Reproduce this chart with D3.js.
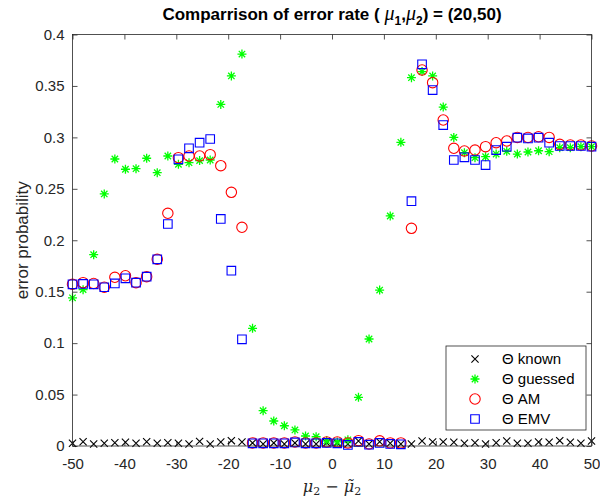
<!DOCTYPE html>
<html>
<head>
<meta charset="utf-8">
<script src="https://cdn.jsdelivr.net/npm/d3@7"></script>
<style>
  html, body { margin: 0; padding: 0; background: #fff; }
  svg { display: block; }
</style>
</head>
<body>
<svg id="chart" width="600" height="498"></svg>
<script>
const xValues = [-50, -47.96, -45.92, -43.88, -41.84, -39.80, -37.76, -35.71, -33.67, -31.63,
  -29.59, -27.55, -25.51, -23.47, -21.43, -19.39, -17.35, -15.31, -13.27, -11.22,
  -9.18, -7.14, -5.10, -3.06, -1.02, 1.02, 3.06, 5.10, 7.14, 9.18,
  11.22, 13.27, 15.31, 17.35, 19.39, 21.43, 23.47, 25.51, 27.55, 29.59,
  31.63, 33.67, 35.71, 37.76, 39.80, 41.84, 43.88, 45.92, 47.96, 50];

const knownVals = [0.0026, 0.0042, 0.0019, 0.0026, 0.0032, 0.0036, 0.0026, 0.0042, 0.0026, 0.0032,
  0.0026, 0.0019, 0.0045, 0.0019, 0.0039, 0.0052, 0.0039, 0.003, 0.002, 0.003,
  0.002, 0.003, 0.002, 0.002, 0.0032, 0.003, 0.0019, 0.0048, 0.0019, 0.0042,
  0.0026, 0.0019, 0.0019, 0.0048, 0.004, 0.004, 0.0036, 0.0026, 0.0032, 0.0019,
  0.0032, 0.0048, 0.0026, 0.0026, 0.0039, 0.0036, 0.0052, 0.0036, 0.0026, 0.0048];

const guessedVals = [0.144, 0.152, 0.186, 0.245, 0.279, 0.269, 0.2696, 0.2797, 0.2657, 0.2819,
  0.2738, 0.2754, 0.2774, 0.278, 0.332, 0.3597, 0.381, 0.1144, 0.0343, 0.0243,
  0.0197, 0.0156, 0.0097, 0.009, 0.005, 0.004, 0.006, 0.0473, 0.104, 0.1516,
  0.2236, 0.2952, 0.358, 0.364, 0.3597, 0.3295, 0.300, 0.2851, 0.2803, 0.2812,
  0.2838, 0.2864, 0.2838, 0.2858, 0.287, 0.2861, 0.29, 0.29, 0.291, 0.291];

const amVals = [0.1572, 0.1588, 0.158, 0.1543, 0.164, 0.1655, 0.1588, 0.1646, 0.1815, 0.2262,
  0.2803, 0.2819, 0.2819, 0.2832, 0.2725, 0.2466, 0.2126, 0.003, 0.003, 0.003,
  0.003, 0.004, 0.003, 0.003, 0.004, 0.004, 0.003, 0.0052, 0.002, 0.005,
  0.003, 0.003, 0.2116, 0.3655, 0.3532, 0.3169, 0.2894, 0.2868, 0.2877, 0.291,
  0.2948, 0.2965, 0.300, 0.300, 0.3006, 0.300, 0.2932, 0.2926, 0.2926, 0.2916];

const emvVals = [0.1572, 0.1575, 0.1572, 0.1543, 0.158, 0.163, 0.1588, 0.1646, 0.1815, 0.2158,
  0.2787, 0.2894, 0.2948, 0.2984, 0.2207, 0.1704, 0.1037, 0.0026, 0.0026, 0.0026,
  0.0026, 0.0035, 0.0026, 0.0026, 0.003, 0.0026, 0.001, 0.004, 0.0013, 0.003,
  0.002, 0.0016, 0.238, 0.371, 0.346, 0.312, 0.278, 0.2806, 0.278, 0.2731,
  0.2877, 0.291, 0.2997, 0.299, 0.2997, 0.2948, 0.2916, 0.2916, 0.2916, 0.291];

const xTickValues = [-50, -40, -30, -20, -10, 0, 10, 20, 30, 40, 50];
const xTickLabels = ["-50", "-40", "-30", "-20", "-10", "0", "10", "20", "30", "40", "50"];
const yTickValues = [0, 0.05, 0.1, 0.15, 0.2, 0.25, 0.3, 0.35, 0.4];
const yTickLabels = ["0", "0.05", "0.1", "0.15", "0.2", "0.25", "0.3", "0.35", "0.4"];

const seriesNames = ["known", "guessed", "AM", "EMV"];
const seriesColors = ["#000000", "#00ff00", "#ff0000", "#0000ff"];
const seriesMarkers = ["x", "star", "circle", "square"];
const seriesData = [knownVals, guessedVals, amVals, emvVals];

const svg = d3.select("#chart");
const L = 72.5, R = 591.5, T = 34.5, B = 446;
const x = d3.scaleLinear().domain([-50, 50]).range([L, R]);
const y = d3.scaleLinear().domain([0, 0.4]).range([B, T]);
const FONT = "'Liberation Sans', Arial, Helvetica, sans-serif";
const TXT = "#262626";

function markerPath(type) {
  if (type === "x") return "M-3.6,-3.6L3.6,3.6M-3.6,3.6L3.6,-3.6";
  if (type === "star") return "M-4.5,0L4.5,0M0,-4.5L0,4.5M-3.2,-3.2L3.2,3.2M-3.2,3.2L3.2,-3.2";
  if (type === "square") return "M-4.3,-4.3H4.3V4.3H-4.3Z";
  return null;
}
function drawMarker(g, type, color) {
  if (type === "circle") {
    g.append("circle").attr("r", 5.2).attr("fill", "none").attr("stroke", color).attr("stroke-width", 1.1);
  } else {
    g.append("path").attr("d", markerPath(type)).attr("fill", "none").attr("stroke", color)
      .attr("stroke-width", type === "star" ? 1.3 : 1.1);
  }
}

// axes
const xAxis = d3.axisBottom(x).tickValues(xTickValues)
  .tickFormat((d, i) => xTickLabels[i]).tickSize(-5).tickPadding(12);
const xg = svg.append("g").attr("transform", `translate(0,${B})`).call(xAxis);
const xAxisTop = d3.axisTop(x).tickValues(xTickValues).tickFormat("").tickSize(-5);
const xgt = svg.append("g").attr("transform", `translate(0,${T})`).call(xAxisTop);
const yAxis = d3.axisLeft(y).tickValues(yTickValues)
  .tickFormat((d, i) => yTickLabels[i]).tickSize(-5).tickPadding(8);
const yg = svg.append("g").attr("transform", `translate(${L},0)`).call(yAxis);
const yAxisR = d3.axisRight(y).tickValues(yTickValues).tickFormat("").tickSize(-5);
const ygr = svg.append("g").attr("transform", `translate(${R},0)`).call(yAxisR);

[xg, xgt, yg, ygr].forEach(g => {
  g.select(".domain").remove();
  g.selectAll(".tick line").attr("stroke", TXT).attr("stroke-width", 0.8);
  g.selectAll("text").attr("fill", TXT).style("font-family", FONT).style("font-size", "15px");
});

// data
seriesData.forEach((vals, s) => {
  const g = svg.append("g");
  vals.forEach((v, i) => {
    const m = g.append("g").attr("transform", `translate(${x(xValues[i])},${y(v)})`);
    drawMarker(m, seriesMarkers[s], seriesColors[s]);
  });
});

// box
svg.append("rect").attr("x", L).attr("y", T).attr("width", R - L).attr("height", B - T)
  .attr("fill", "none").attr("stroke", TXT).attr("stroke-width", 0.8);

// title
const title = svg.append("text").attr("x", (L + R) / 2).attr("y", 20)
  .attr("text-anchor", "middle").style("font-family", FONT).style("font-size", "17px")
  .style("font-weight", "bold").attr("fill", "#000");
title.append("tspan").text("Comparrison of error rate ( ");
title.append("tspan").text("μ").style("font-style", "italic").style("font-weight", "normal").style("font-family", "'Liberation Serif', serif").style("font-size", "20px");
title.append("tspan").text("1").attr("dy", 5).style("font-size", "12px");
title.append("tspan").text(",").attr("dy", -5);
title.append("tspan").text("μ").style("font-style", "italic").style("font-weight", "normal").style("font-family", "'Liberation Serif', serif").style("font-size", "20px");
title.append("tspan").text("2").attr("dy", 5).style("font-size", "12px");
title.append("tspan").text(") = (20,50)").attr("dy", -5);

// y label
svg.append("text").attr("transform", `translate(28,${(T + B) / 2}) rotate(-90)`)
  .attr("text-anchor", "middle").style("font-family", FONT).style("font-size", "17px")
  .attr("fill", TXT).text("error probability");

// x label
const xl = svg.append("text").attr("x", (L + R) / 2).attr("y", 492).attr("text-anchor", "middle")
  .style("font-family", "'DejaVu Serif', 'Liberation Serif', serif").style("font-size", "16px").attr("fill", TXT);
xl.append("tspan").text("μ").style("font-style", "italic");
xl.append("tspan").text("2").attr("dy", 3).style("font-size", "11px");
xl.append("tspan").text(" − ").attr("dy", -3);
xl.append("tspan").text("μ̃").style("font-style", "italic");
xl.append("tspan").text("2").attr("dy", 3).style("font-size", "11px");

// legend
const LX = 446, LY = 346, LW = 140, LH = 84;
svg.append("rect").attr("x", LX).attr("y", LY).attr("width", LW).attr("height", LH)
  .attr("fill", "#fff").attr("stroke", TXT).attr("stroke-width", 0.8);
seriesNames.forEach((name, s) => {
  const ry = 359 + s * 20;
  const m = svg.append("g").attr("transform", `translate(475,${ry})`);
  drawMarker(m, seriesMarkers[s], seriesColors[s]);
  svg.append("text").attr("x", 502).attr("y", ry + 5).style("font-family", FONT)
    .style("font-size", "15px").attr("fill", "#000").text("Θ " + name);
});
</script>
</body>
</html>
